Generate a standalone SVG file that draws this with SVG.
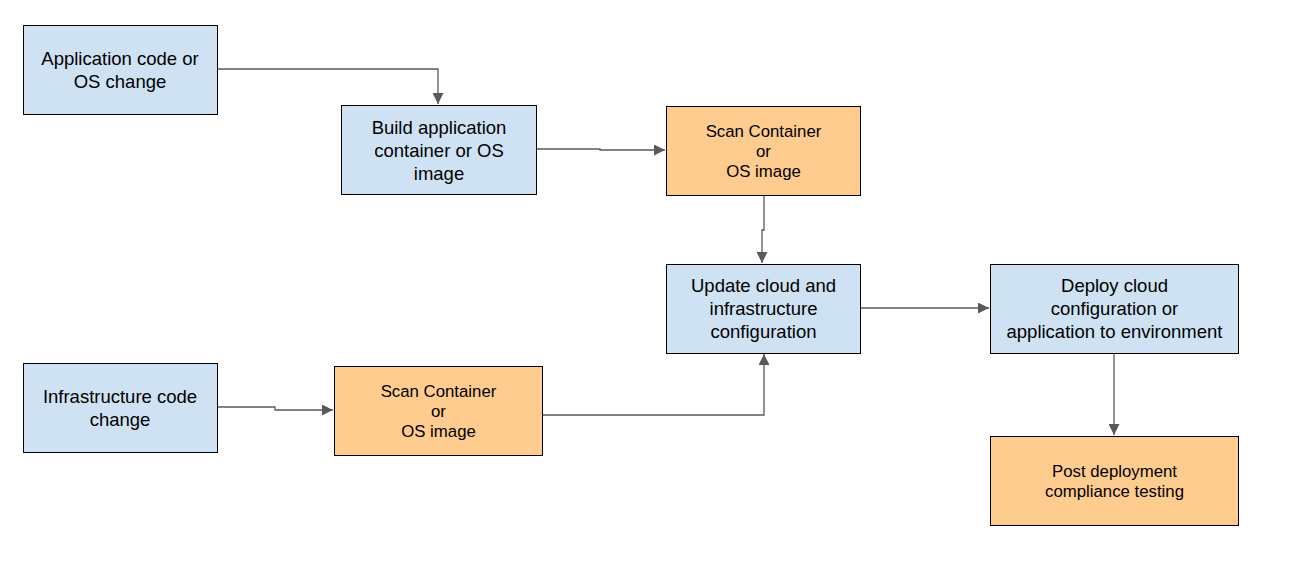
<svg xmlns="http://www.w3.org/2000/svg" width="1292" height="576" viewBox="0 0 1292 576">
<defs>
<marker id="arr" markerUnits="userSpaceOnUse" markerWidth="12" markerHeight="11" refX="11" refY="5.5" orient="auto">
<path d="M0,0 L11,5.5 L0,11 Z" fill="#595959"/>
</marker>
<style>
.blue{fill:#cfe2f3;stroke:#000;stroke-width:1}
.orange{fill:#ffcc8f;stroke:#000;stroke-width:1}
.tb{font-family:"Liberation Sans",Arial,sans-serif;font-size:18.5px;fill:#000;text-anchor:middle}
.to{font-family:"Liberation Sans",Arial,sans-serif;font-size:16.8px;fill:#000;text-anchor:middle}
.c{fill:none;stroke:#595959;stroke-width:1.3;marker-end:url(#arr)}
</style>
</defs>
<rect width="1292" height="576" fill="#fff"/>
<g id="connectors">
<path class="c" d="M217,69 H438 V104"/>
<path class="c" d="M536,149 H600 V150 H665"/>
<path class="c" d="M764,195 V230 H762 V263"/>
<path class="c" d="M860,308 H989"/>
<path class="c" d="M1114,353 V435"/>
<path class="c" d="M217,407 H275 V410 H333"/>
<path class="c" d="M542,415 H764 V354"/>
</g>
<g id="n1"><rect class="blue" x="23.5" y="25.5" width="194" height="89"/>
<text class="tb" x="120" y="64.5">Application code or</text><text class="tb" x="120" y="87.5">OS change</text></g>
<g id="n2"><rect class="blue" x="341.5" y="105.5" width="195" height="89"/>
<text class="tb" x="439" y="133.5">Build application</text><text class="tb" x="439" y="156.5">container or OS</text><text class="tb" x="439" y="179.5">image</text></g>
<g id="n3"><rect class="orange" x="666.5" y="106.5" width="194" height="89"/>
<text class="to" x="763.5" y="137">Scan Container</text><text class="to" x="763.5" y="157">or</text><text class="to" x="763.5" y="177">OS image</text></g>
<g id="n4"><rect class="blue" x="666.5" y="264.5" width="194" height="89"/>
<text class="tb" x="763.5" y="291.5">Update cloud and</text><text class="tb" x="763.5" y="314.5">infrastructure</text><text class="tb" x="763.5" y="337.5">configuration</text></g>
<g id="n5"><rect class="blue" x="990.5" y="264.5" width="248" height="89"/>
<text class="tb" x="1114.5" y="291.5">Deploy cloud</text><text class="tb" x="1114.5" y="314.5">configuration or</text><text class="tb" x="1114.5" y="337.5">application to environment</text></g>
<g id="n6"><rect class="orange" x="990.5" y="436.5" width="248" height="89"/>
<text class="to" x="1114.5" y="477">Post deployment</text><text class="to" x="1114.5" y="497">compliance testing</text></g>
<g id="n7"><rect class="blue" x="23.5" y="363.5" width="194" height="89"/>
<text class="tb" x="120" y="402.5">Infrastructure code</text><text class="tb" x="120" y="425.5">change</text></g>
<g id="n8"><rect class="orange" x="334.5" y="366.5" width="208" height="89"/>
<text class="to" x="438.5" y="397">Scan Container</text><text class="to" x="438.5" y="417">or</text><text class="to" x="438.5" y="437">OS image</text></g>
</svg>
